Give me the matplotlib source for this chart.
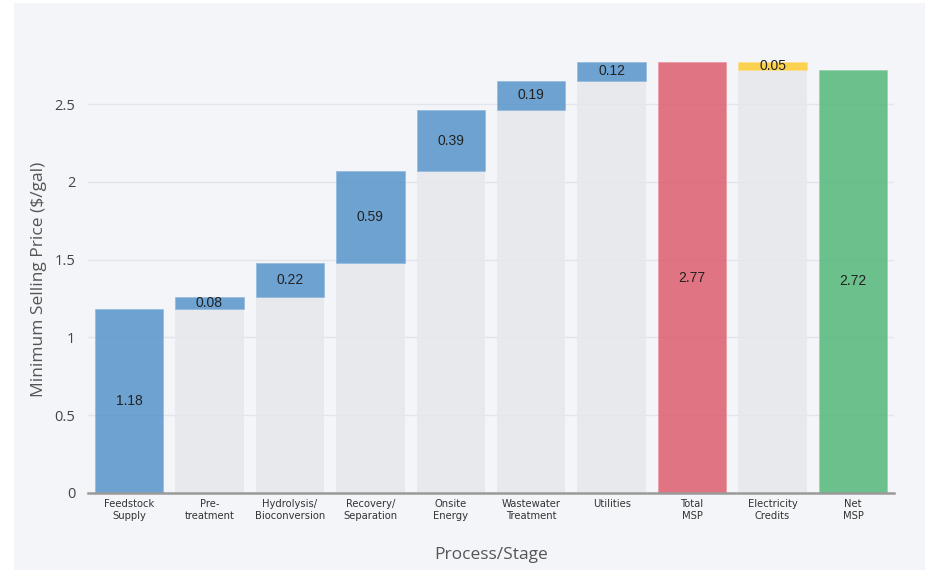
import matplotlib
matplotlib.use("Agg")
import matplotlib.pyplot as plt
from matplotlib.patches import Rectangle
import numpy as np

# Cost contributions to the minimum selling price ($/gal)
stages = ["Feedstock\nSupply", "Pre-\ntreatment", "Hydrolysis/\nBioconversion",
          "Recovery/\nSeparation", "Onsite\nEnergy", "Wastewater\nTreatment",
          "Utilities", "Total\nMSP", "Electricity\nCredits", "Net\nMSP"]
increments = [1.18, 0.08, 0.22, 0.59, 0.39, 0.19, 0.12]
total_msp = 2.77
electricity_credit = -0.05
net_msp = 2.72
y_ticks = [0, 0.5, 1, 1.5, 2, 2.5]
y_tick_labels = ["0", "0.5", "1", "1.5", "2", "2.5"]

BG = "#f4f5f9"
BLUE = "#4d8fc8"
RED = "#dd5466"
YELLOW = "#fec926"
GREEN = "#4ab371"
BASE = "#e6e7eb"
ALPHA = 0.8

fig = plt.figure(figsize=(9.25, 5.7), dpi=100)
fig.patch.set_facecolor("white")
fig.patches.append(Rectangle((14 / 925, 0), 1, 1 - 3 / 570, transform=fig.transFigure,
                             facecolor=BG, edgecolor="none", zorder=-10))

ax = fig.add_axes([88 / 925, 1 - 493 / 570, (894 - 88) / 925, 0.797])
ax.set_facecolor(BG)
ax.patch.set_alpha(0)

x = np.arange(len(stages))
width = 0.85

cum = np.concatenate([[0], np.cumsum(increments)])
bases = cum[:-1]

label_font = dict(family="Liberation Sans", fontsize=10, color="#222222",
                  ha="center", va="center", zorder=5)

# stepping cost components with their invisible-base supports
for i, (b, v) in enumerate(zip(bases, increments)):
    if b > 0:
        ax.bar(x[i], b, width=width, color=BASE, alpha=ALPHA, zorder=2, linewidth=0)
    ax.bar(x[i], v, bottom=b, width=width, color=BLUE, alpha=ALPHA, zorder=3,
           edgecolor="#8fb8de", linewidth=0.6)
    ax.text(x[i], b + v / 2, f"{v:.2f}", **label_font)

# total
i = len(increments)
ax.bar(x[i], total_msp, width=width, color=RED, alpha=ALPHA, zorder=3,
       edgecolor="#ea94a0", linewidth=0.6)
ax.text(x[i], total_msp / 2, f"{total_msp:.2f}", **label_font)

# electricity credit (decrease)
i += 1
lo = total_msp + electricity_credit
ax.bar(x[i], lo, width=width, color=BASE, alpha=ALPHA, zorder=2, linewidth=0)
ax.bar(x[i], -electricity_credit, bottom=lo, width=width, color=YELLOW, alpha=ALPHA,
       zorder=3, edgecolor="#fde08a", linewidth=0.6)
ax.text(x[i], lo - electricity_credit / 2, f"{-electricity_credit:.2f}", **label_font)

# net
i += 1
ax.bar(x[i], net_msp, width=width, color=GREEN, alpha=ALPHA, zorder=3,
       edgecolor="#93d3aa", linewidth=0.6)
ax.text(x[i], net_msp / 2, f"{net_msp:.2f}", **label_font)

ax.set_xlim(-0.51, len(stages) - 0.49)
ax.set_ylim(0, 2.92)

ax.set_yticks(y_ticks)
ax.set_yticklabels(y_tick_labels, family="Open Sans", fontsize=10.5, color="#444444")
ax.yaxis.grid(True, color="#e4e5ea", linewidth=1.0, zorder=0)
ax.set_axisbelow(True)
ax.tick_params(axis="y", length=0, pad=9)

ax.set_xticks(x)
ax.set_xticklabels(stages, family="DejaVu Sans", fontsize=7.2, color="#333333",
                   linespacing=1.25)
ax.tick_params(axis="x", length=0, pad=4)

for s in ["top", "right", "left"]:
    ax.spines[s].set_visible(False)
ax.spines["bottom"].set_color("#9a9a9a")
ax.spines["bottom"].set_linewidth(1.8)
ax.spines["bottom"].set_zorder(6)

ax.set_xlabel("Process/Stage", family="Open Sans", fontsize=12.5, color="#555555")
ax.xaxis.set_label_coords(0.5, -0.119)
ax.set_ylabel("Minimum Selling Price ($/gal)", family="Open Sans", fontsize=12.5,
              color="#555555")
ax.yaxis.set_label_coords(-0.051, 0.47)

fig.savefig("out.png", dpi=100, facecolor=fig.get_facecolor())
